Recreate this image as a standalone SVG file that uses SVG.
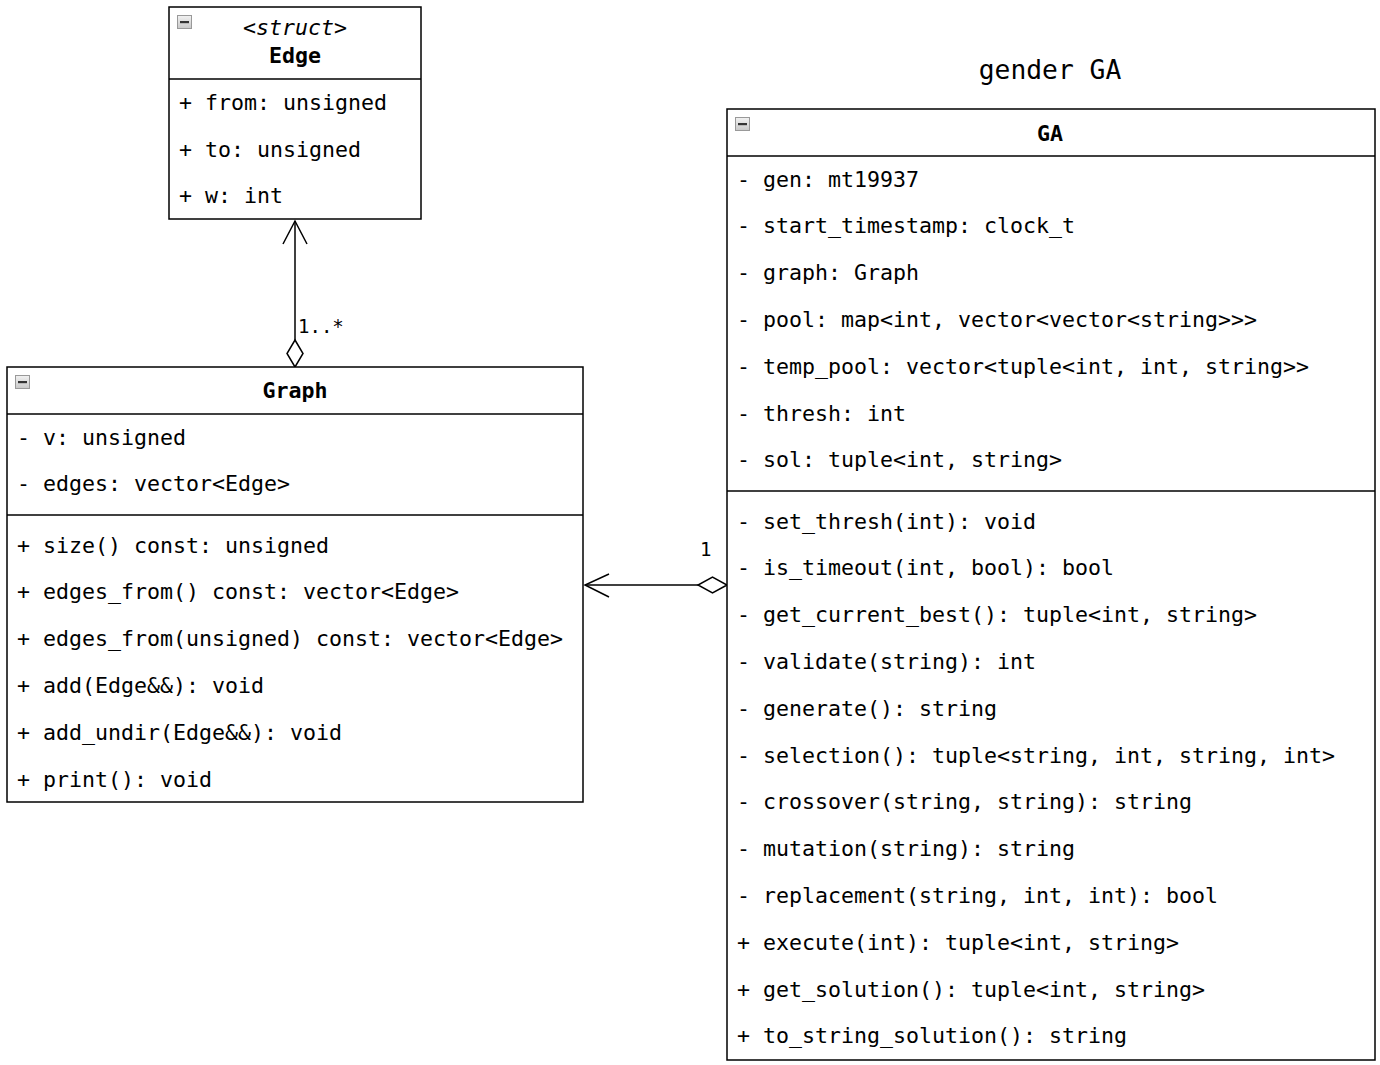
<svg xmlns="http://www.w3.org/2000/svg" width="1380" height="1065" viewBox="0 0 1380 1065">
<style>
.box{fill:#fff;stroke:#000;stroke-width:1.5}
.div{stroke:#000;stroke-width:1.5}
.t{font-family:"DejaVu Sans Mono","Liberation Mono",monospace;font-size:21.6px;fill:#000;dominant-baseline:central}
.b{font-weight:bold;text-anchor:middle}
.i{font-style:italic;text-anchor:middle}
.lbl{font-family:"DejaVu Sans Mono","Liberation Mono",monospace;font-size:19px;fill:#000}
.title{font-family:"DejaVu Sans Mono","Liberation Mono",monospace;font-size:26.3px;fill:#000;text-anchor:middle;dominant-baseline:central}
.ln{stroke:#000;stroke-width:1.5;fill:none}
.dia{stroke:#000;stroke-width:1.5;fill:#fff}
</style>
<defs>
<linearGradient id="mg" x1="0" y1="0" x2="0" y2="1">
<stop offset="0" stop-color="#f2f2f2"/>
<stop offset="1" stop-color="#c8c8c8"/>
</linearGradient>
<g id="mini">
<rect x="0.5" y="0.5" width="14" height="13" fill="url(#mg)" stroke="#999" stroke-width="1"/>
<rect x="3" y="6" width="9" height="2.2" fill="#333"/>
</g>
</defs>
<rect width="1380" height="1065" fill="#fff"/>
<text class="title" x="1050" y="70">gender GA</text>

<g id="connectors">
<g id="edge-graph">
<line class="ln" x1="295" y1="221" x2="295" y2="340"/>
<polyline class="ln" points="283,244 295,221 307,244"/>
<polygon class="dia" points="295,340 303,353.5 295,367 287,353.5"/>
<text class="lbl" x="298" y="333">1..*</text>
</g>
<g id="ga-graph">
<line class="ln" x1="585" y1="585" x2="698" y2="585"/>
<polyline class="ln" points="609,574 585,585 609,597"/>
<polygon class="dia" points="727,585 712.5,593 698,585 712.5,577"/>
<text class="lbl" x="700" y="556">1</text>
</g>
</g>

<g id="Edge">
<rect class="box" x="169" y="7" width="252" height="212"/>
<line class="div" x1="169" y1="79" x2="421" y2="79"/>
<use href="#mini" x="177" y="15"/>
<text class="t i" x="295" y="27">&lt;struct&gt;</text>
<text class="t b" x="295" y="55">Edge</text>
<text class="t" x="179" y="102">+ from: unsigned</text>
<text class="t" x="179" y="149">+ to: unsigned</text>
<text class="t" x="179" y="195">+ w: int</text>
</g>

<g id="Graph">
<rect class="box" x="7" y="367" width="576" height="435"/>
<line class="div" x1="7" y1="414" x2="583" y2="414"/>
<line class="div" x1="7" y1="515" x2="583" y2="515"/>
<use href="#mini" x="15" y="375"/>
<text class="t b" x="295" y="390">Graph</text>
<text class="t" x="17" y="437">- v: unsigned</text>
<text class="t" x="17" y="483">- edges: vector&lt;Edge&gt;</text>
<text class="t" x="17" y="545">+ size() const: unsigned</text>
<text class="t" x="17" y="591">+ edges_from() const: vector&lt;Edge&gt;</text>
<text class="t" x="17" y="638">+ edges_from(unsigned) const: vector&lt;Edge&gt;</text>
<text class="t" x="17" y="685">+ add(Edge&amp;&amp;): void</text>
<text class="t" x="17" y="732">+ add_undir(Edge&amp;&amp;): void</text>
<text class="t" x="17" y="779">+ print(): void</text>
</g>

<g id="GA">
<rect class="box" x="727" y="109" width="648" height="951"/>
<line class="div" x1="727" y1="156" x2="1375" y2="156"/>
<line class="div" x1="727" y1="491" x2="1375" y2="491"/>
<use href="#mini" x="735" y="117"/>
<text class="t b" x="1050" y="133">GA</text>
<text class="t" x="737" y="179">- gen: mt19937</text>
<text class="t" x="737" y="225">- start_timestamp: clock_t</text>
<text class="t" x="737" y="272">- graph: Graph</text>
<text class="t" x="737" y="319">- pool: map&lt;int, vector&lt;vector&lt;string&gt;&gt;&gt;</text>
<text class="t" x="737" y="366">- temp_pool: vector&lt;tuple&lt;int, int, string&gt;&gt;</text>
<text class="t" x="737" y="413">- thresh: int</text>
<text class="t" x="737" y="459">- sol: tuple&lt;int, string&gt;</text>
<text class="t" x="737" y="521">- set_thresh(int): void</text>
<text class="t" x="737" y="567">- is_timeout(int, bool): bool</text>
<text class="t" x="737" y="614">- get_current_best(): tuple&lt;int, string&gt;</text>
<text class="t" x="737" y="661">- validate(string): int</text>
<text class="t" x="737" y="708">- generate(): string</text>
<text class="t" x="737" y="755">- selection(): tuple&lt;string, int, string, int&gt;</text>
<text class="t" x="737" y="801">- crossover(string, string): string</text>
<text class="t" x="737" y="848">- mutation(string): string</text>
<text class="t" x="737" y="895">- replacement(string, int, int): bool</text>
<text class="t" x="737" y="942">+ execute(int): tuple&lt;int, string&gt;</text>
<text class="t" x="737" y="989">+ get_solution(): tuple&lt;int, string&gt;</text>
<text class="t" x="737" y="1035">+ to_string_solution(): string</text>
</g>
</svg>
